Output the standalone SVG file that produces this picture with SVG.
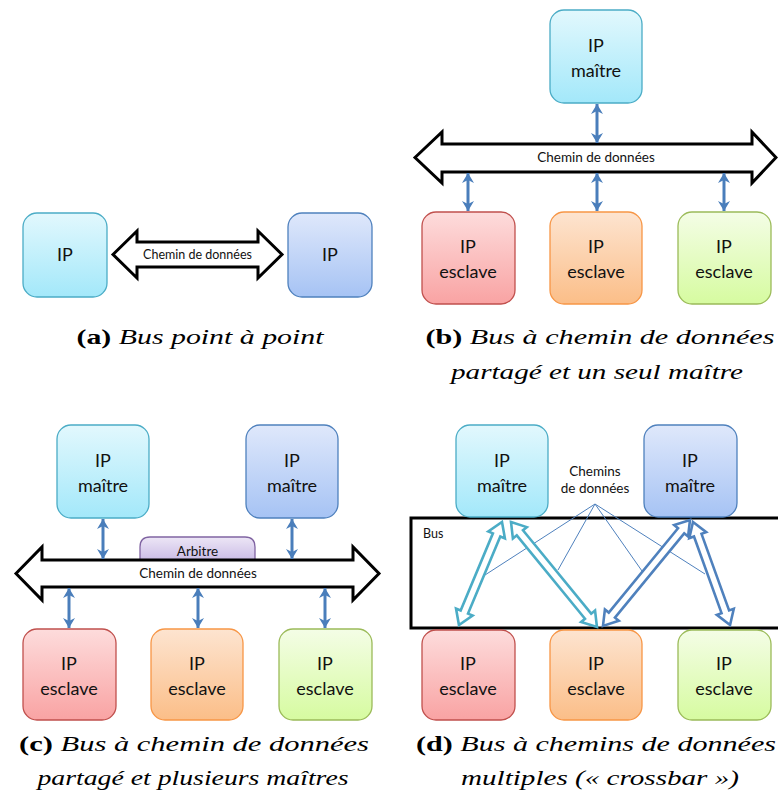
<svg xmlns="http://www.w3.org/2000/svg" width="778" height="805" viewBox="0 0 778 805">
<defs>
<linearGradient id="gCyan" x1="0" y1="0" x2="0" y2="1"><stop offset="0" stop-color="#e2f8fd"/><stop offset="1" stop-color="#a3e8fa"/></linearGradient>
<linearGradient id="gBlue" x1="0" y1="0" x2="0" y2="1"><stop offset="0" stop-color="#dfe8fb"/><stop offset="1" stop-color="#a6c3f4"/></linearGradient>
<linearGradient id="gRed" x1="0" y1="0" x2="0" y2="1"><stop offset="0" stop-color="#fddcdc"/><stop offset="1" stop-color="#f9a3a3"/></linearGradient>
<linearGradient id="gOrange" x1="0" y1="0" x2="0" y2="1"><stop offset="0" stop-color="#fde4d0"/><stop offset="1" stop-color="#fbbe88"/></linearGradient>
<linearGradient id="gGreen" x1="0" y1="0" x2="0" y2="1"><stop offset="0" stop-color="#f4fde6"/><stop offset="1" stop-color="#d6fba0"/></linearGradient>
<linearGradient id="gPurple" x1="0" y1="0" x2="0" y2="1"><stop offset="0" stop-color="#ede6f6"/><stop offset="1" stop-color="#cbbde6"/></linearGradient>
<marker id="ah" viewBox="-2 -7 12 14" refX="9" refY="0" markerWidth="12" markerHeight="14" markerUnits="userSpaceOnUse" orient="auto-start-reverse">
<path d="M-1,-6 L9,0 L-1,6 L2,0 Z" fill="#4a7ebb"/>
</marker>
</defs>
<style>
.box{stroke-width:1.3}
.cyan{fill:url(#gCyan);stroke:#4bacc6}
.blue{fill:url(#gBlue);stroke:#4f81bd}
.red{fill:url(#gRed);stroke:#c0504d}
.orange{fill:url(#gOrange);stroke:#f79646}
.green{fill:url(#gGreen);stroke:#9bbb59}
.purple{fill:url(#gPurple);stroke:#8064a2;stroke-width:1.3}
.t{font-family:Lato,"Liberation Sans",sans-serif;font-size:18px;fill:#111;text-anchor:middle}
.s{font-family:Lato,"Liberation Sans",sans-serif;font-size:13.5px;fill:#111;text-anchor:middle}
.bus{fill:#fff;stroke:#000;stroke-width:3;stroke-linejoin:miter}
.link{stroke:#4a7ebb;stroke-width:3;fill:none;marker-start:url(#ah);marker-end:url(#ah)}
.thin{stroke:#4f81bd;stroke-width:1;fill:none}
.xc{fill:#fff;stroke:#4bacc6;stroke-width:2.6;stroke-linejoin:miter}
.xb{fill:#fff;stroke:#4f81bd;stroke-width:2.6;stroke-linejoin:miter}
.cap{font-family:"Liberation Serif","DejaVu Serif",serif;font-size:21px;fill:#000;text-anchor:middle;font-style:italic}
.cap .lbl{font-style:normal;font-weight:bold}
</style>

<!-- (a) -->
<g id="a-ip1"><rect class="box cyan" x="23" y="213" width="84" height="84" rx="14"/><text class="t" x="65" y="261">IP</text></g>
<g id="a-ip2"><rect class="box blue" x="288" y="213" width="84" height="84" rx="14"/><text class="t" x="330" y="261">IP</text></g>
<g id="a-connectors">
<polygon class="bus" points="113,254.5 137,231 137,242 258,242 258,231 282,254.5 258,278 258,267 137,267 137,278"/>
<text class="s" x="197.5" y="259" style="font-size:12.5px">Chemin de données</text>
</g>

<!-- (b) -->
<g id="b-master"><rect class="box cyan" x="550" y="10" width="92" height="93" rx="14"/><text class="t" x="596" y="52">IP</text><text class="t" x="596" y="77">maître</text></g>
<g id="b-slave1"><rect class="box red" x="422" y="212" width="93" height="92" rx="14"/><text class="t" x="468" y="253">IP</text><text class="t" x="468" y="278">esclave</text></g>
<g id="b-slave2"><rect class="box orange" x="550" y="212" width="92" height="92" rx="14"/><text class="t" x="596" y="253">IP</text><text class="t" x="596" y="278">esclave</text></g>
<g id="b-slave3"><rect class="box green" x="678" y="212" width="93" height="92" rx="14"/><text class="t" x="724" y="253">IP</text><text class="t" x="724" y="278">esclave</text></g>
<g id="b-connectors">
<polygon class="bus" points="415,157.5 442,132 442,144 752,144 752,132 776,157.5 752,183 752,172 442,172 442,183"/>
<text class="s" x="596" y="162">Chemin de données</text>
<line class="link" x1="597" y1="104" x2="597" y2="143"/>
<line class="link" x1="468" y1="173" x2="468" y2="211"/>
<line class="link" x1="597" y1="173" x2="597" y2="211"/>
<line class="link" x1="724" y1="173" x2="724" y2="211"/>
</g>

<!-- (c) -->
<g id="c-master1"><rect class="box cyan" x="57" y="425" width="92" height="93" rx="14"/><text class="t" x="103" y="467">IP</text><text class="t" x="103" y="492">maître</text></g>
<g id="c-master2"><rect class="box blue" x="246" y="425" width="92" height="93" rx="14"/><text class="t" x="292" y="467">IP</text><text class="t" x="292" y="492">maître</text></g>
<g id="c-arbitre"><path class="purple" d="M140,560 L140,547 Q140,537 150,537 L245,537 Q255,537 255,547 L255,560 Z"/><text class="s" x="197.5" y="556">Arbitre</text></g>
<g id="c-slave1"><rect class="box red" x="23" y="629" width="93" height="91" rx="14"/><text class="t" x="69" y="670">IP</text><text class="t" x="69" y="695">esclave</text></g>
<g id="c-slave2"><rect class="box orange" x="151" y="629" width="92" height="91" rx="14"/><text class="t" x="197" y="670">IP</text><text class="t" x="197" y="695">esclave</text></g>
<g id="c-slave3"><rect class="box green" x="279" y="629" width="93" height="91" rx="14"/><text class="t" x="325" y="670">IP</text><text class="t" x="325" y="695">esclave</text></g>
<g id="c-connectors">
<polygon class="bus" points="16,573.5 42,547 42,560 353,560 353,547 379,573.5 353,600 353,587 42,587 42,600"/>
<text class="s" x="198" y="578">Chemin de données</text>
<line class="link" x1="103" y1="519" x2="103" y2="559"/>
<line class="link" x1="292" y1="519" x2="292" y2="559"/>
<line class="link" x1="69" y1="588" x2="69" y2="628"/>
<line class="link" x1="198" y1="588" x2="198" y2="628"/>
<line class="link" x1="325" y1="588" x2="325" y2="628"/>
</g>

<!-- (d) -->
<g id="d-bus"><rect x="411" y="518" width="380" height="110" fill="none" stroke="#000" stroke-width="3"/><text class="s" x="423" y="538" style="text-anchor:start;font-size:12.5px">Bus</text></g>
<g id="d-master1"><rect class="box cyan" x="456" y="425" width="92" height="92" rx="14"/><text class="t" x="502" y="467">IP</text><text class="t" x="502" y="492">maître</text></g>
<g id="d-master2"><rect class="box blue" x="644" y="425" width="93" height="92" rx="14"/><text class="t" x="690" y="467">IP</text><text class="t" x="690" y="492">maître</text></g>
<g id="d-slave1"><rect class="box red" x="422" y="630" width="93" height="90" rx="14"/><text class="t" x="468" y="670">IP</text><text class="t" x="468" y="695">esclave</text></g>
<g id="d-slave2"><rect class="box orange" x="550" y="630" width="92" height="90" rx="14"/><text class="t" x="596" y="670">IP</text><text class="t" x="596" y="695">esclave</text></g>
<g id="d-slave3"><rect class="box green" x="678" y="630" width="93" height="90" rx="14"/><text class="t" x="724" y="670">IP</text><text class="t" x="724" y="695">esclave</text></g>
<g id="d-label"><text class="s" x="595" y="476">Chemins</text><text class="s" x="595" y="493">de données</text></g>
<g id="d-connectors">
<path class="thin" d="M595,504 L485,575 M595,504 L558,570 M595,504 L642,571 M595,504 L705,574"/>
<polygon class="xc" transform="translate(502,522) rotate(112.7)" points="0,0 14,-9 14,-4 97.6,-4 97.6,-9 111.6,0 97.6,9 97.6,4 14,4 14,9"/>
<polygon class="xc" transform="translate(511,522) rotate(50.7)" points="0,0 14,-9 14,-4 121.7,-4 121.7,-9 135.7,0 121.7,9 121.7,4 14,4 14,9"/>
<polygon class="xb" transform="translate(690,520) rotate(129.4)" points="0,0 14,-9 14,-4 123.1,-4 123.1,-9 137.1,0 123.1,9 123.1,4 14,4 14,9"/>
<polygon class="xb" transform="translate(693,522) rotate(70.2)" points="0,0 14,-9 14,-4 95.4,-4 95.4,-9 109.4,0 95.4,9 95.4,4 14,4 14,9"/>
</g>

<!-- captions -->
<g id="captions">
<text class="cap" x="200" y="344" textLength="247" lengthAdjust="spacingAndGlyphs"><tspan class="lbl">(a)</tspan> Bus point à point</text>
<text class="cap" x="600" y="344" textLength="349" lengthAdjust="spacingAndGlyphs"><tspan class="lbl">(b)</tspan> Bus à chemin de données</text>
<text class="cap" x="597" y="379" textLength="292" lengthAdjust="spacingAndGlyphs">partagé et un seul maître</text>
<text class="cap" x="194" y="751" textLength="350" lengthAdjust="spacingAndGlyphs"><tspan class="lbl">(c)</tspan> Bus à chemin de données</text>
<text class="cap" x="193" y="785" textLength="311" lengthAdjust="spacingAndGlyphs">partagé et plusieurs maîtres</text>
<text class="cap" x="596" y="751" textLength="360" lengthAdjust="spacingAndGlyphs"><tspan class="lbl">(d)</tspan> Bus à chemins de données</text>
<text class="cap" x="600" y="785" textLength="278" lengthAdjust="spacingAndGlyphs">multiples (« crossbar »)</text>
</g>
</svg>
